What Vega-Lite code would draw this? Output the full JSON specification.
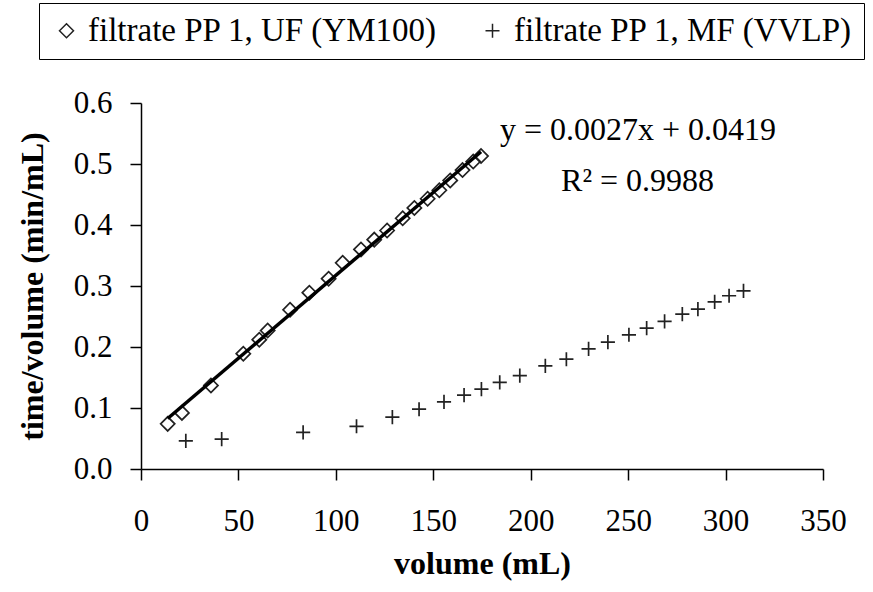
{
  "$schema": "https://vega.github.io/schema/vega-lite/v6.json",
  "width": 682,
  "height": 366,
  "autosize": {"type": "none"},
  "padding": {"left": 141, "top": 103, "right": 50, "bottom": 123},
  "background": "white",
  "config": {
    "view": {"stroke": null},
    "font": "Liberation Serif",
    "axis": {
      "grid": false,
      "domainColor": "black",
      "domainWidth": 1.5,
      "tickColor": "black",
      "tickWidth": 1.5,
      "tickSize": 11,
      "labelFont": "Liberation Serif",
      "labelFontSize": 31,
      "labelColor": "black",
      "labelFlush": false,
      "labelOverlap": false,
      "titleFont": "Liberation Serif",
      "titleFontSize": 32,
      "titleFontWeight": "bold",
      "titleColor": "black"
    }
  },
  "datasets": {
    "pts": [
      {"vol": 13.7, "tv": 0.074, "series": "filtrate PP 1, UF (YM100)"},
      {"vol": 21.0, "tv": 0.092, "series": "filtrate PP 1, UF (YM100)"},
      {"vol": 35.9, "tv": 0.137, "series": "filtrate PP 1, UF (YM100)"},
      {"vol": 52.5, "tv": 0.189, "series": "filtrate PP 1, UF (YM100)"},
      {"vol": 60.7, "tv": 0.212, "series": "filtrate PP 1, UF (YM100)"},
      {"vol": 65.0, "tv": 0.227, "series": "filtrate PP 1, UF (YM100)"},
      {"vol": 76.5, "tv": 0.261, "series": "filtrate PP 1, UF (YM100)"},
      {"vol": 86.4, "tv": 0.289, "series": "filtrate PP 1, UF (YM100)"},
      {"vol": 96.3, "tv": 0.312, "series": "filtrate PP 1, UF (YM100)"},
      {"vol": 103.5, "tv": 0.338, "series": "filtrate PP 1, UF (YM100)"},
      {"vol": 112.9, "tv": 0.360, "series": "filtrate PP 1, UF (YM100)"},
      {"vol": 119.7, "tv": 0.376, "series": "filtrate PP 1, UF (YM100)"},
      {"vol": 126.3, "tv": 0.391, "series": "filtrate PP 1, UF (YM100)"},
      {"vol": 134.3, "tv": 0.411, "series": "filtrate PP 1, UF (YM100)"},
      {"vol": 140.3, "tv": 0.428, "series": "filtrate PP 1, UF (YM100)"},
      {"vol": 147.1, "tv": 0.443, "series": "filtrate PP 1, UF (YM100)"},
      {"vol": 153.1, "tv": 0.457, "series": "filtrate PP 1, UF (YM100)"},
      {"vol": 158.7, "tv": 0.473, "series": "filtrate PP 1, UF (YM100)"},
      {"vol": 165.0, "tv": 0.490, "series": "filtrate PP 1, UF (YM100)"},
      {"vol": 170.5, "tv": 0.504, "series": "filtrate PP 1, UF (YM100)"},
      {"vol": 174.5, "tv": 0.513, "series": "filtrate PP 1, UF (YM100)"},
      {"vol": 23.0, "tv": 0.046, "series": "filtrate PP 1, MF (VVLP)"},
      {"vol": 41.4, "tv": 0.049, "series": "filtrate PP 1, MF (VVLP)"},
      {"vol": 83.2, "tv": 0.060, "series": "filtrate PP 1, MF (VVLP)"},
      {"vol": 110.6, "tv": 0.070, "series": "filtrate PP 1, MF (VVLP)"},
      {"vol": 129.0, "tv": 0.085, "series": "filtrate PP 1, MF (VVLP)"},
      {"vol": 142.7, "tv": 0.098, "series": "filtrate PP 1, MF (VVLP)"},
      {"vol": 155.5, "tv": 0.110, "series": "filtrate PP 1, MF (VVLP)"},
      {"vol": 165.8, "tv": 0.121, "series": "filtrate PP 1, MF (VVLP)"},
      {"vol": 174.7, "tv": 0.131, "series": "filtrate PP 1, MF (VVLP)"},
      {"vol": 184.1, "tv": 0.142, "series": "filtrate PP 1, MF (VVLP)"},
      {"vol": 194.4, "tv": 0.153, "series": "filtrate PP 1, MF (VVLP)"},
      {"vol": 207.5, "tv": 0.169, "series": "filtrate PP 1, MF (VVLP)"},
      {"vol": 218.3, "tv": 0.180, "series": "filtrate PP 1, MF (VVLP)"},
      {"vol": 229.7, "tv": 0.197, "series": "filtrate PP 1, MF (VVLP)"},
      {"vol": 239.6, "tv": 0.208, "series": "filtrate PP 1, MF (VVLP)"},
      {"vol": 250.4, "tv": 0.220, "series": "filtrate PP 1, MF (VVLP)"},
      {"vol": 259.5, "tv": 0.231, "series": "filtrate PP 1, MF (VVLP)"},
      {"vol": 268.7, "tv": 0.242, "series": "filtrate PP 1, MF (VVLP)"},
      {"vol": 277.8, "tv": 0.254, "series": "filtrate PP 1, MF (VVLP)"},
      {"vol": 285.8, "tv": 0.262, "series": "filtrate PP 1, MF (VVLP)"},
      {"vol": 294.4, "tv": 0.274, "series": "filtrate PP 1, MF (VVLP)"},
      {"vol": 301.8, "tv": 0.284, "series": "filtrate PP 1, MF (VVLP)"},
      {"vol": 309.2, "tv": 0.292, "series": "filtrate PP 1, MF (VVLP)"}
    ],
    "labels": [
      {"x": 184.2, "y": 0.540, "label": "y = 0.0027x + 0.0419"},
      {"x": 215.6, "y": 0.455, "label": "R² = 0.9988"}
    ]
  },
  "layer": [
    {
      "data": {"name": "pts"},
      "mark": {"type": "point", "filled": false, "color": "#222", "strokeWidth": 1.7, "size": 200, "opacity": 1},
      "encoding": {
        "x": {
          "field": "vol", "type": "quantitative",
          "scale": {"domain": [0, 350], "nice": false, "zero": true},
          "axis": {"title": "volume (mL)", "values": [0, 50, 100, 150, 200, 250, 300, 350], "labelPadding": 26, "titlePadding": 12}
        },
        "y": {
          "field": "tv", "type": "quantitative",
          "scale": {"domain": [0, 0.6], "nice": false},
          "axis": {"title": "time/volume (min/mL)", "values": [0, 0.1, 0.2, 0.3, 0.4, 0.5, 0.6], "format": ".1f", "labelPadding": 18, "titlePadding": 24}
        },
        "shape": {
          "field": "series", "type": "nominal",
          "scale": {
            "domain": ["filtrate PP 1, UF (YM100)", "filtrate PP 1, MF (VVLP)"],
            "range": ["diamond", "M-1,0H1M0,-1V1"]
          },
          "legend": {
            "title": null,
            "orient": "none",
            "legendX": -102,
            "legendY": -100,
            "direction": "horizontal",
            "strokeColor": "black",
            "fillColor": "white",
            "padding": 11,
            "columnPadding": 38,
            "labelOffset": 5,
            "labelLimit": 0,
            "labelFont": "Liberation Serif",
            "labelFontSize": 33,
            "labelColor": "black",
            "symbolSize": 196,
            "symbolStrokeColor": "#222",
            "symbolStrokeWidth": 1.5,
            "symbolFillColor": "transparent",
            "encode": {"legend": {"update": {"strokeWidth": {"value": 1.5}}}}
          }
        }
      }
    },
    {
      "data": {"name": "pts"},
      "transform": [
        {"filter": "datum.series === 'filtrate PP 1, UF (YM100)'"},
        {"regression": "tv", "on": "vol"}
      ],
      "mark": {"type": "line", "color": "black", "strokeWidth": 3.5},
      "encoding": {
        "x": {"field": "vol", "type": "quantitative"},
        "y": {"field": "tv", "type": "quantitative"}
      }
    },
    {
      "data": {"name": "labels"},
      "mark": {"type": "text", "align": "left", "baseline": "alphabetic", "fontSize": 32, "font": "Liberation Serif", "color": "black"},
      "encoding": {
        "x": {"field": "x", "type": "quantitative"},
        "y": {"field": "y", "type": "quantitative"},
        "text": {"field": "label"}
      }
    }
  ]
}
